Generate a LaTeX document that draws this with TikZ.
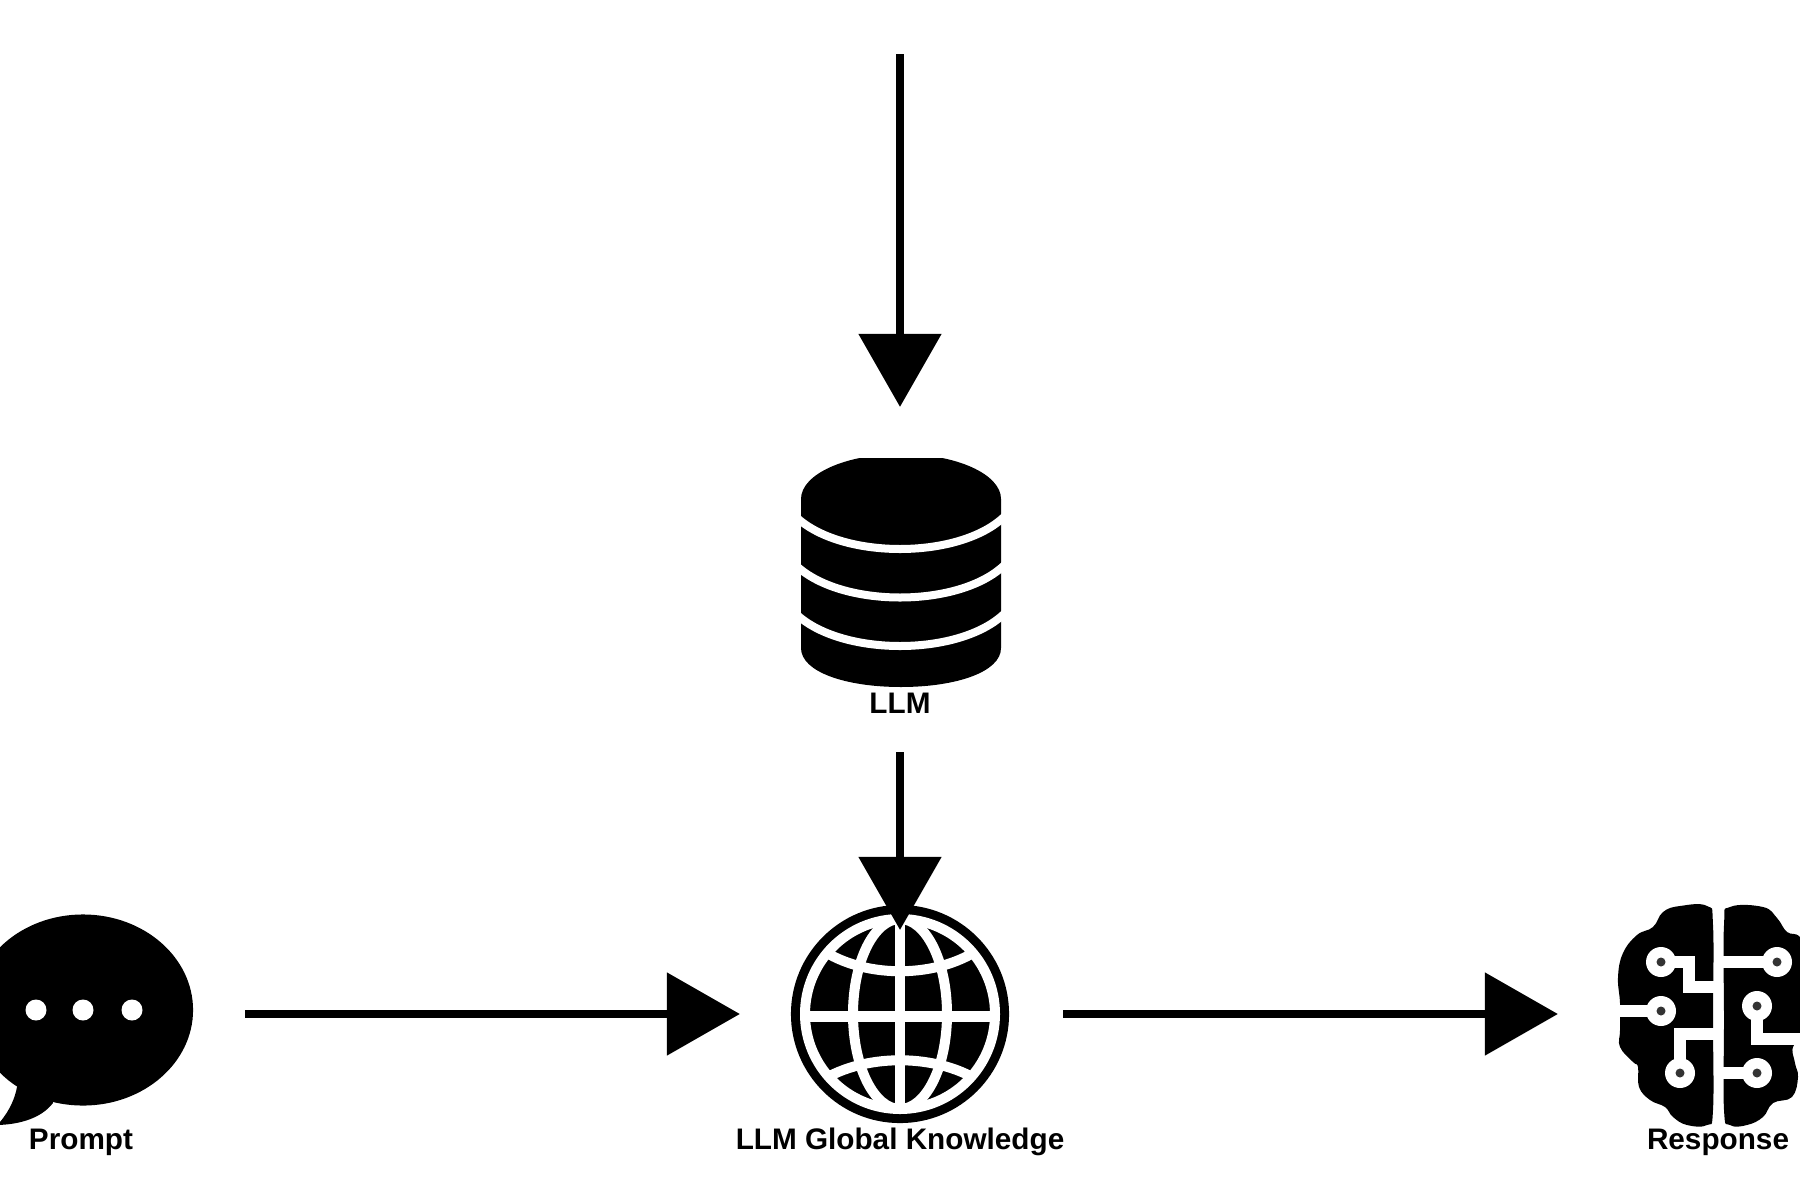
\documentclass[tikz,border=0pt]{standalone}
\usepackage{fontspec}
\setmainfont{Liberation Sans}
\usetikzlibrary{arrows.meta,shapes.geometric}
\tikzset{
	flow/.style = {line width = .085cm, -{Triangle[length = .73cm, width = .81cm]}},
	iconbox/.style = {inner sep = 0pt, outer sep = 0pt},
	iconlabel/.style = {font = \fontsize{8.45}{10}\selectfont\bfseries, inner sep = 0pt, anchor = base},
	trace/.style = {white, line width = .115cm},
	gridline/.style = {white, line width = .1cm},
	pin/.style = {fill = white},
	pinhole/.style = {fill = black!80}
}
\begin{document}
\begin{tikzpicture}[x = .01cm, y = -.01cm]
	\useasboundingbox (0,0) rectangle (1800,1200);
	\clip (0,0) rectangle (1800,1200);
	\coordinate (feed) at (900,54);
	\node [iconbox, ellipse, fill = black, minimum width = 2.2cm, minimum height = 1.91cm] (prompt) at (83,1010) {};
	\node [iconbox, minimum width = 2cm, minimum height = 2.29cm] (llm) at (900,572.5) {};
	\node [iconbox, circle, fill = black, minimum size = 2.18cm] (globe) at (900,1014) {};
	\node [iconbox, minimum width = 1.82cm, minimum height = 2.2cm] (brain) at (1709,1014) {};
	\node [iconlabel] (promptlabel) at (81,1149) {Prompt};
	\node [iconlabel] (llmlabel) at (900,713) {LLM};
	\node [iconlabel] (globelabel) at (900,1149) {LLM Global Knowledge};
	\node [iconlabel] (brainlabel) at (1718,1149) {Response};
	\fill (53,1103) .. controls (40,1120) and (15,1125) .. (-5,1125) -- (0,1122) .. controls (10,1110) and (15,1098) .. (17,1087) -- (50,1050) -- cycle;
	\fill [white] (36,1010) circle (10.5);
	\fill [white] (83,1010) circle (10.5);
	\fill [white] (132,1010) circle (10.5);
	\fill (801,499) -- (801,648) .. controls (801,672) and (846,687) .. (901,687) .. controls (956,687) and (1001,672) .. (1001,648) -- (1001,499) -- cycle;
	\begin{scope}
		\clip (790,458) rectangle (1010,560);
		\fill (901,499) ellipse (100 and 45);
	\end{scope}
	\foreach \y in {0,48.5,97} {
		\draw [white, line width = .08cm] (795,516+\y) .. controls (840,560+\y) and (960,560+\y) .. (1005,516+\y);
	}
	\draw [gridline] (900,1014) circle (95);
	\begin{scope}
		\clip (900,1014) circle (98);
		\draw [gridline] (900,1014) ellipse (47 and 95);
		\draw [gridline] (900,915) -- (900,1113);
		\draw [white, line width = .11cm] (802,1016) -- (998,1016);
		\draw [gridline] (815,945) .. controls (860,980) and (940,980) .. (985,945);
		\draw [gridline] (815,1085) .. controls (860,1052) and (940,1052) .. (985,1085);
	\end{scope}
	\fill plot [smooth cycle, tension = .7] coordinates {(1713,925) (1707,906) (1680,906) (1663,912) (1653,927) (1637,935) (1623,953) (1618,977) (1620,1003) (1620,1030) (1620,1047) (1633,1062) (1638,1067) (1639,1087) (1650,1100) (1665,1107) (1673,1117) (1687,1125) (1707,1125) (1713,1110) (1713,1020)};
	\fill plot [smooth cycle, tension = .7] coordinates {(1724,925) (1730,907) (1763,907) (1777,918) (1787,932) (1800,937) (1815,960) (1815,1030) (1794,1045) (1795,1063) (1798,1077) (1792,1097) (1773,1103) (1763,1117) (1747,1125) (1730,1125) (1724,1110) (1724,1020)};
	\draw [trace] (1661,962) -- (1689,962) -- (1689,987) -- (1718,987);
	\draw [trace] (1610,1011) -- (1661,1011);
	\draw [trace] (1680,1073) -- (1680,1034) -- (1718,1034);
	\draw [trace] (1719,962) -- (1777,962);
	\draw [trace] (1757,1006) -- (1757,1039) -- (1805,1039);
	\draw [trace] (1719,1073) -- (1757,1073);
	\foreach \a/\b in {1661/962, 1661/1011, 1680/1073, 1777/962, 1757/1006, 1757/1073} {
		\fill [pin] (\a,\b) circle (15);
		\fill [pinhole] (\a,\b) circle (4.5);
	}
	\draw [flow, shorten >= .51cm] (feed) -- (llm.north);
	\draw [flow, shorten <= .39cm, shorten >= -.25cm] (llmlabel.base) -- (globe.north);
	\draw [flow, shorten <= .52cm, shorten >= .51cm] (prompt.east |- globe) -- (globe.west);
	\draw [flow, shorten <= .54cm, shorten >= .6cm] (globe.east) -- (brain.west);
\end{tikzpicture}
\end{document}
